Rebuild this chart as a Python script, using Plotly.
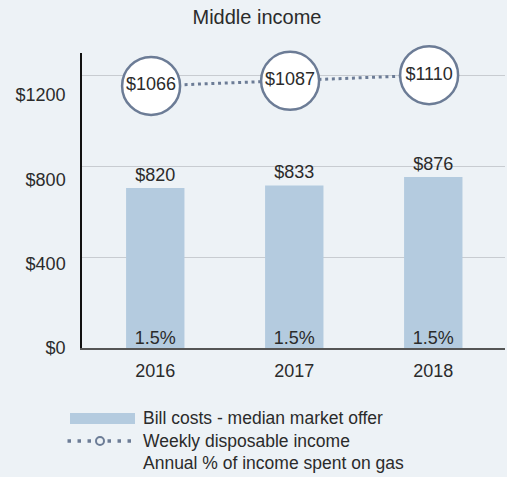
import plotly.graph_objects as go

# ---- data ----
years = ["2016", "2017", "2018"]
bill_costs = [820, 833, 876]
weekly_income = [1066, 1087, 1110]
pct_income = ["1.5%", "1.5%", "1.5%"]
y_tick_vals = [0, 400, 800, 1200]
y_tick_text = ["$0", "$400", "$800", "$1200"]

title_text = "Middle income"
legend_bar = "Bill costs - median market offer"
legend_line = "Weekly disposable income"
legend_pct = "Annual % of income spent on gas"

# ---- style ----
W, H = 507, 477
ML, MR, MT, MB = 82, 2, 53, 129
BG = "#edf2f6"
BAR = "#b4cbdf"
LINE = "#6c7c96"
TXT = "#2b2b2b"
FONT = "Liberation Sans, Arial, sans-serif"
FS = 18

PW = W - ML - MR
PH = H - MT - MB


def px(x):
    return (x - ML) / PW


def py(y):
    return (H - MB - y) / PH


fig = go.Figure()

fig.add_trace(go.Bar(
    x=years, y=bill_costs, name=legend_bar,
    marker=dict(color=BAR, line=dict(width=0)), width=0.42,
    text=["$%d" % v for v in bill_costs], textposition="outside",
    textfont=dict(size=FS, color=TXT, family=FONT), cliponaxis=False,
    showlegend=False, xaxis="x", yaxis="y",
))

fig.add_trace(go.Scatter(
    x=years, y=[0, 0, 0], mode="text", text=pct_income,
    textposition="top center", name=legend_pct,
    textfont=dict(size=FS, color=TXT, family=FONT),
    showlegend=False, xaxis="x", yaxis="y", cliponaxis=False,
))

# empty helper traces so the grid axis and the tick-label axis are drawn
fig.add_trace(go.Scatter(x=[], y=[], xaxis="x", yaxis="y2", showlegend=False, hoverinfo="skip"))
fig.add_trace(go.Scatter(x=[], y=[], xaxis="x", yaxis="y3", showlegend=False, hoverinfo="skip"))

fig.add_trace(go.Scatter(
    x=years, y=weekly_income, mode="lines+markers+text", name=legend_line,
    text=["$%d" % v for v in weekly_income], textposition="middle center",
    textfont=dict(size=FS, color=TXT, family=FONT),
    line=dict(color=LINE, width=3, dash="3px,3.7px"),
    marker=dict(size=58, color="white", line=dict(color=LINE, width=2.5)),
    showlegend=False, xaxis="x2", yaxis="y4", cliponaxis=False,
))

xr = [-0.527, 2.516]
shift = 0.03

fig.update_layout(
    width=W, height=H,
    margin=dict(l=ML, r=MR, t=MT, b=MB),
    paper_bgcolor=BG, plot_bgcolor=BG,
    font=dict(family=FONT, size=FS, color=TXT),
    showlegend=False,
    title=dict(text=title_text, x=257 / W, xanchor="center", xref="container",
               y=1 - 16.5 / H, yanchor="middle", yref="container",
               font=dict(size=20, color=TXT, family=FONT)),
    xaxis=dict(type="category", range=xr, showgrid=False, zeroline=False,
               showline=True, linecolor="#555555", linewidth=2,
               ticks="outside", ticklen=5, tickcolor="rgba(0,0,0,0)",
               tickfont=dict(size=FS, color=TXT)),
    xaxis2=dict(type="category", range=[xr[0] + shift, xr[1] + shift],
                overlaying="x", visible=False),
    yaxis=dict(range=[0, 1512], showgrid=False, zeroline=False,
               showticklabels=False, showline=False),
    yaxis2=dict(range=[0, 1300], overlaying="y", anchor="x", side="left",
                tickvals=y_tick_vals, showticklabels=False, showgrid=True,
                gridcolor="#c8ccd1", gridwidth=1, zeroline=False, showline=False),
    yaxis3=dict(range=[0, 1400], overlaying="y", anchor="x", side="left",
                tickvals=y_tick_vals, ticktext=y_tick_text, showgrid=False,
                zeroline=False, showline=True, linecolor="#111111", linewidth=1.5,
                ticks="outside", ticklen=11, tickcolor="rgba(0,0,0,0)",
                tickfont=dict(size=FS, color=TXT)),
    yaxis4=dict(range=[0, 1200], overlaying="y", anchor="x2", visible=False),
)

# ---- custom legend ----
shapes = []
annotations = []
shapes.append(dict(type="rect", xref="paper", yref="paper",
                   x0=px(70), x1=px(135), y0=py(424), y1=py(413),
                   fillcolor=BAR, line=dict(width=0), layer="above"))
shapes.append(dict(type="line", xref="paper", yref="paper",
                   x0=px(67.5), x1=px(133), y0=py(441), y1=py(441),
                   line=dict(color=LINE, width=3.5, dash="3.5px,6.5px"), layer="above"))
shapes.append(dict(type="circle", xref="paper", yref="paper",
                   x0=px(96), x1=px(104), y0=py(445), y1=py(437),
                   fillcolor=BG, line=dict(color=LINE, width=2), layer="above"))
for text, yy in [(legend_bar, 418.5), (legend_line, 441), (legend_pct, 463)]:
    annotations.append(dict(text=text, xref="paper", yref="paper",
                            x=px(141), y=py(yy), xanchor="left", yanchor="middle",
                            showarrow=False, font=dict(size=17.5, color=TXT, family=FONT)))

fig.update_layout(shapes=shapes, annotations=annotations)

fig.write_html("out.html", config={"displayModeBar": False},
               post_script="document.body.style.margin='0';document.body.style.overflow='hidden';")
